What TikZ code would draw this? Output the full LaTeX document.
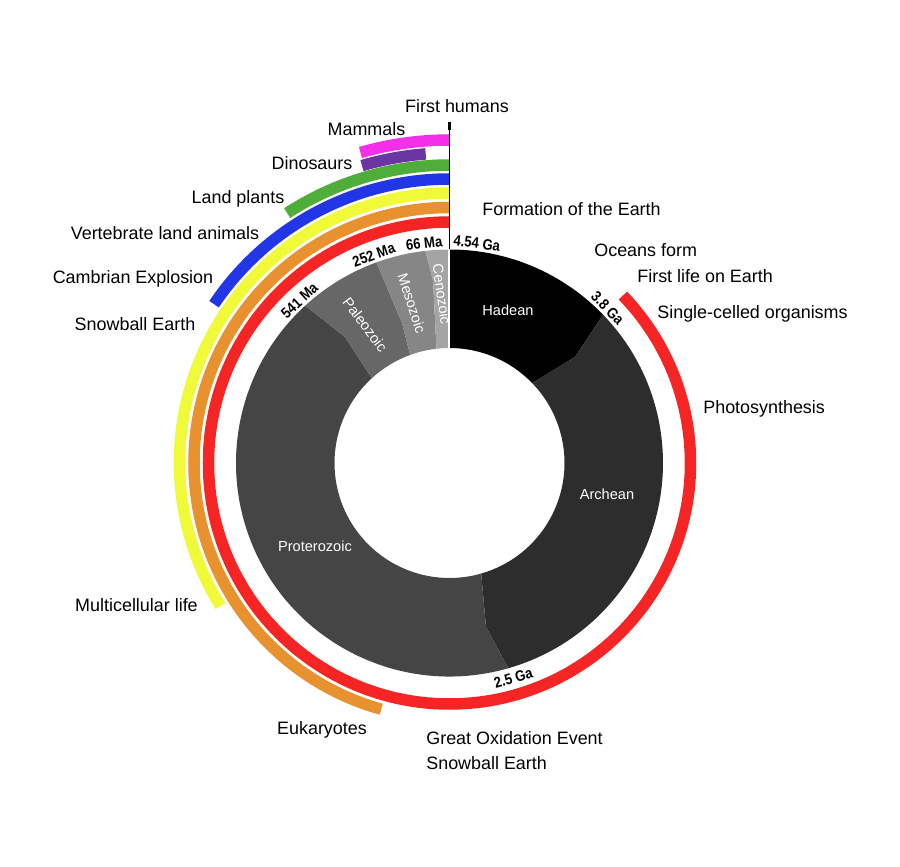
\documentclass[tikz,border=0pt]{standalone}
\usepackage{fontspec}
\setmainfont{Liberation Sans}
\definecolor{hadean}{gray}{0}
\definecolor{archean}{HTML}{2D2D2D}
\definecolor{proterozoic}{HTML}{454545}
\definecolor{paleozoic}{HTML}{676767}
\definecolor{mesozoic}{HTML}{868686}
\definecolor{cenozoic}{HTML}{A4A4A4}
\definecolor{lifered}{HTML}{F52525}
\definecolor{euorange}{HTML}{E8912F}
\definecolor{multiyellow}{HTML}{F0FA38}
\definecolor{cambblue}{HTML}{2236E6}
\definecolor{plantgreen}{HTML}{4FAE3A}
\definecolor{dinopurple}{HTML}{6B36A2}
\definecolor{mammalpink}{HTML}{F52EEA}

\begin{document}
\begin{tikzpicture}[x=0.2mm, y=0.2mm,
  lbl/.style={font=\fontsize{10.2}{12}\selectfont, inner sep=0pt, text height=0.72em, text depth=0pt},
  era/.style={font=\fontsize{8.3}{10}\selectfont, text=white, inner sep=0pt, text height=0.72em, text depth=0pt},
  date/.style={font=\fontsize{8.6}{10}\selectfont\bfseries, inner sep=0pt, text height=0.72em, text depth=0pt},
  band/.style={line width=2.3mm}]
\useasboundingbox (-449.5,-404) rectangle (450.5,463);
\def\Ro{213.5}
\def\Ri{115}

% eons and eras
\fill[hadean] (90:\Ro) arc[start angle=90, end angle=44, radius=\Ro] -- (125.5,106) -- (44:\Ri) arc[start angle=44, end angle=90, radius=\Ri] -- cycle;
\fill[archean] (44:\Ro) arc[start angle=44, end angle=-74, radius=\Ro] -- (36.5,-164) -- (-74:\Ri) arc[start angle=-74, end angle=44, radius=\Ri] -- (125.5,106) -- cycle;
\fill[proterozoic] (-74:\Ro) arc[start angle=-74, end angle=-227.5, radius=\Ro] -- (-104.5,126) -- (-227.5:\Ri) arc[start angle=-227.5, end angle=-74, radius=\Ri] -- (36.5,-164) -- cycle;
\fill[paleozoic] (132.5:\Ro) arc[start angle=132.5, end angle=110, radius=\Ro] -- (-47.5,140) -- (110:\Ri) arc[start angle=110, end angle=132.5, radius=\Ri] -- (-104.5,126) -- cycle;
\fill[mesozoic] (110:\Ro) arc[start angle=110, end angle=96.5, radius=\Ro] -- (-16.5,183) -- (96.5:\Ri) arc[start angle=96.5, end angle=110, radius=\Ri] -- (-47.5,140) -- cycle;
\fill[cenozoic] (96.5:\Ro) arc[start angle=96.5, end angle=90, radius=\Ro] -- (90:\Ri) arc[start angle=90, end angle=96.5, radius=\Ri] -- (-16.5,183) -- cycle;
\draw[white, line width=0.4mm] (90:\Ri) -- (90:\Ro);

\foreach \r/\e/\c in {241/404/lifered, 255.5/254.5/euorange, 270/212/multiyellow, 284/146/cambblue, 298/123/plantgreen, 323/106/mammalpink}
  \draw[band, \c] (90:\r) arc[start angle=90, end angle=\e, radius=\r];
\draw[band, dinopurple] (94.4:310) arc[start angle=94.4, end angle=106.4, radius=310];

\draw[line width=0.28mm] (90:\Ro) -- (0,341);
\draw[line width=0.6mm] (0,333) -- (0,341);

\node[era] (lhadean) at (58.5,154) {Hadean};
\node[era] (larchean) at (157.5,-30) {Archean};
\node[era] (lprot) at (-134.5,-82) {Proterozoic};
\node[era, rotate=-53] (lpaleo) at (-83.5,139) {Paleozoic};
\node[era, rotate=-72] (lmeso) at (-36.5,160) {Mesozoic};
\node[era, rotate=-82] (lceno) at (-6.5,169) {Cenozoic};

\foreach \a/\t/\n in {82.9/4.54 Ga/d454, 44.4/3.8 Ga/d38, 96.6/66 Ma/d66, 110/252 Ma/d252, 132.7/541 Ma/d541}
  \node[date, rotate=\a-90, xscale=0.87] (\n) at (\a:222.5) {\t};
\node[date, rotate=16.5, xscale=0.87] (d25) at (-73.5:223.5) {2.5 Ga};

\node[lbl] (humans) at (7.5,357) {First humans};
\node[lbl] (mammals) at (-83,334) {Mammals};
\node[lbl] (dinos) at (-137.5,300) {Dinosaurs};
\node[lbl] (plants) at (-211.5,266) {Land plants};
\node[lbl] (vertebr) at (-284.5,230) {Vertebrate land animals};
\node[lbl] (cambrian) at (-316.5,186) {Cambrian Explosion};
\node[lbl] (snowtop) at (-314.5,139) {Snowball Earth};
\node[lbl] (multicell) at (-313,-142) {Multicellular life};
\node[lbl] (eukary) at (-127.5,-265) {Eukaryotes};
\node[lbl, anchor=west] (oxidation) at (-23.5,-275) {Great Oxidation Event};
\node[lbl, anchor=west] (snowlow) at (-23.5,-300) {Snowball Earth};
\node[lbl, anchor=west] (formation) at (32.5,254) {Formation of the Earth};
\node[lbl, anchor=west] (oceans) at (144.5,213) {Oceans form};
\node[lbl, anchor=west] (firstlife) at (187.5,187) {First life on Earth};
\node[lbl, anchor=west] (single) at (207.5,151) {Single-celled organisms};
\node[lbl, anchor=west] (photo) at (253.5,56) {Photosynthesis};
\end{tikzpicture}
\end{document}
